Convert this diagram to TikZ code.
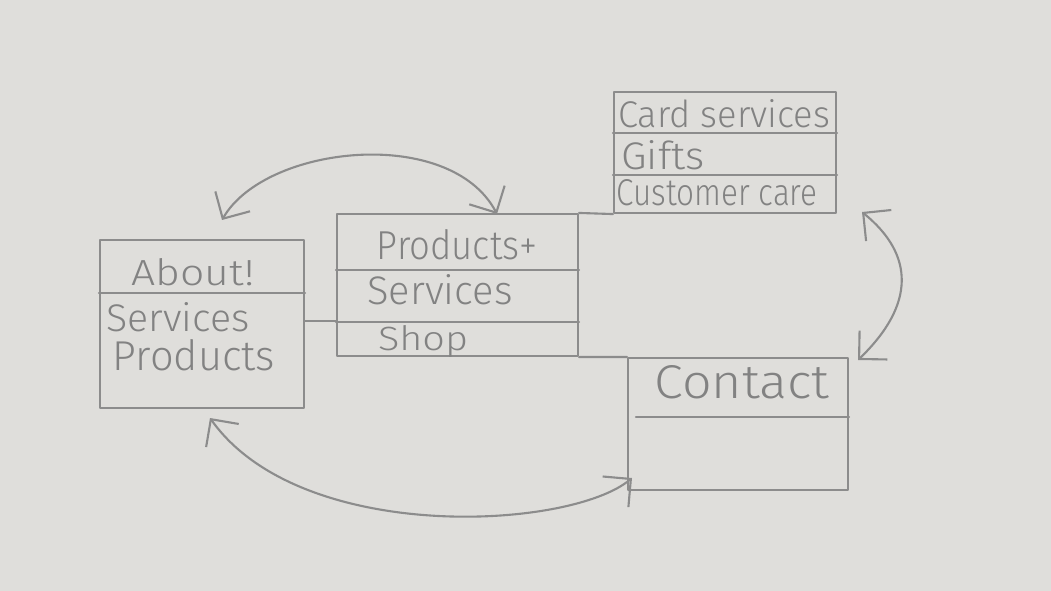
\documentclass[tikz,border=0pt]{standalone}
\usepackage{fontspec}
\setmainfont{Fira Sans}[UprightFont=* Light]
\usepackage{graphicx}
\usetikzlibrary{arrows.meta,calc}
\newdimen\pxu \pxu=0.02cm
\newcommand\hw[3]{\resizebox{#1\pxu}{#2\pxu}{#3}}
\definecolor{paper}{HTML}{DFDEDB}
\definecolor{pencil}{HTML}{8C8C8C}
\definecolor{ink}{HTML}{828282}
\tikzset{
  pen/.style={draw=pencil, line width=1.2pt, line cap=round, line join=round},
  box/.style={pen, rectangle, inner sep=0pt},
  txt/.style={text=ink, inner sep=0pt, anchor=base},
  barb/.style={pen, {Straight Barb[length=4mm,width=8mm]}-{Straight Barb[length=4mm,width=8mm]}}
}
\begin{document}
\begin{tikzpicture}[x=0.02cm, y=-0.02cm]
  \fill[paper] (0,0) rectangle (1051,591);
  \useasboundingbox (0,0) rectangle (1051,591);

  % boxes
  \node[box, minimum width=204\pxu, minimum height=168\pxu] (about) at (202,324) {};
  \node[box, minimum width=241\pxu, minimum height=142\pxu] (products) at (457.5,285) {};
  \node[box, minimum width=222\pxu, minimum height=121\pxu] (card) at (725,152.5) {};
  \node[box, minimum width=220\pxu, minimum height=132\pxu] (contact) at (738,424) {};

  % dividers
  \draw[pen] (about.west |- 0,293) -- (about.east |- 0,293);
  \draw[pen] (products.west |- 0,270) -- (products.east |- 0,270);
  \draw[pen] (products.west |- 0,322) -- (products.east |- 0,322);
  \draw[pen] (card.west |- 0,133) -- (card.east |- 0,133);
  \draw[pen] (card.west |- 0,175) -- (card.east |- 0,175);
  \draw[pen] ($(contact.west |- 0,417)+(9,0)$) -- (contact.east |- 0,417);

  % texts (anchored at their baselines)
  \node[txt] (tabout) at (193,285) {\hw{123}{27}{About!}};
  \node[txt] (tserv1) at (178,331) {\hw{143}{29}{Services}};
  \node[txt] (tprod1) at (194,370) {\hw{162}{31}{Products}};
  \node[txt] (tprod2) at (457,259) {\hw{160}{30}{Products+}};
  \node[txt] (tserv2) at (440,304) {\hw{145}{30}{Services}};
  \node[txt] (tshop) at (423,350) {\hw{90}{25}{Shop}};
  \node[txt] (tcard) at (724,128) {\hw{212}{28}{Card services}};
  \node[txt] (tgift) at (663,170) {\hw{83}{29}{Gifts}};
  \node[txt] (tcare) at (717,206) {\hw{201}{26}{Customer care}};
  \node[txt] (tcont) at (742,398) {\hw{175}{33}{Contact}};

  % plain connectors
  \draw[pen] (about.east |- 0,321) -- (products.west |- 0,321);
  \draw[pen] (products.north east) -- (card.south west);
  \draw[pen] (products.south east) -- (contact.north west);

  % arrow ends
  \coordinate (a1) at (222,220);
  \coordinate (a2) at (497,214);
  \coordinate (c1) at (862,212);
  \coordinate (c2) at (858,360);
  \coordinate (b1) at (210,418);
  \coordinate (b2) at (632,478);

  % curved double arrows
  \draw[barb] (a1) .. controls (265,145) and (450,125) .. (a2);
  \draw[barb] (c1) .. controls (915,255) and (915,305) .. (c2);
  \draw[barb] (b1) .. controls (300,545) and (570,530) .. (b2);
\end{tikzpicture}
\end{document}
